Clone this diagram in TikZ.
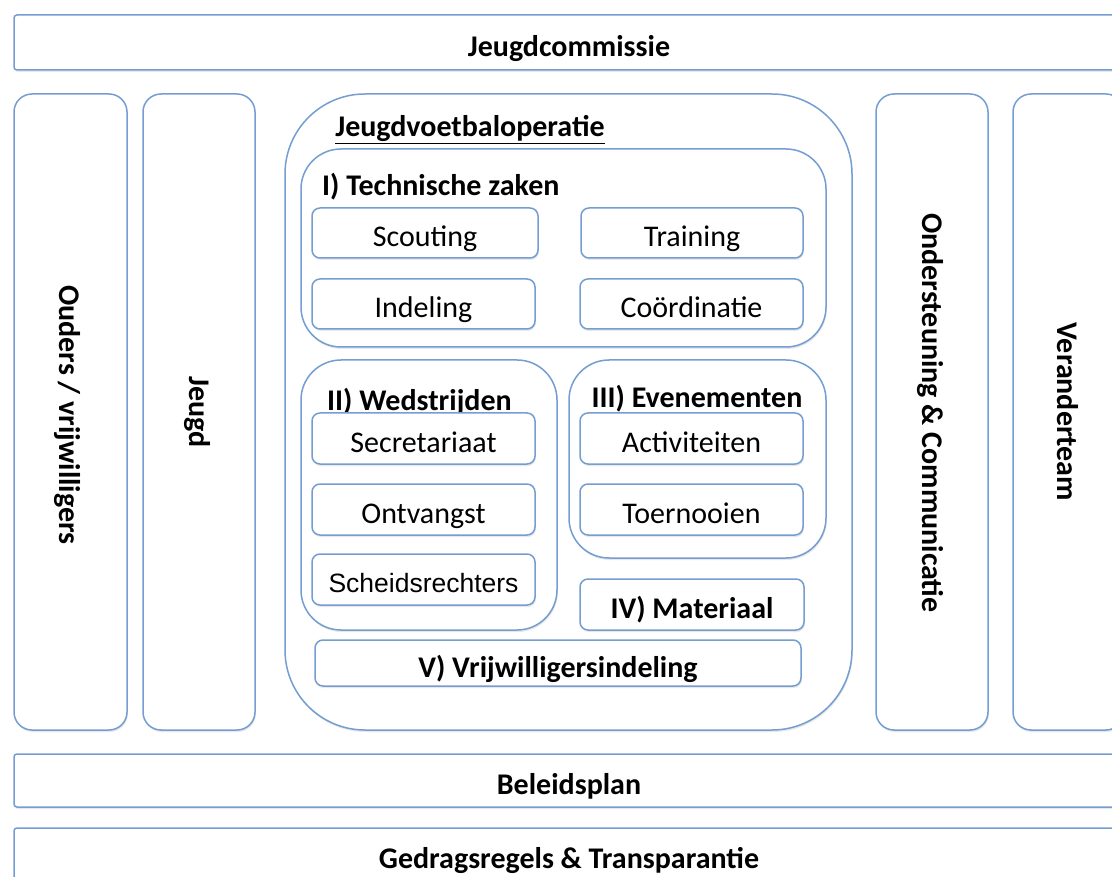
\documentclass[tikz,border=0pt]{standalone}
\usepackage{fontspec}
\setmainfont{Carlito}
\newfontfamily\arialf{Liberation Sans}
\usetikzlibrary{shadows}
\definecolor{bc}{RGB}{116,158,210}
\tikzset{
  box/.style={draw=bc, line width=1.5pt, fill=white, inner sep=0pt,
    drop shadow={opacity=0.18, shadow xshift=0.8pt, shadow yshift=-2pt},
    text height=28pt, text depth=0pt,
    font=\fontsize{30}{34}\selectfont},
  bar/.style={box, rounded corners=3pt, minimum width=1110pt, font=\fontsize{30}{34}\selectfont\bfseries},
  col/.style={box, rounded corners=18pt, minimum height=636pt},
  grp/.style={box, rounded corners=40pt},
  item/.style={box, rounded corners=8pt, minimum width=223pt, minimum height=51pt},
  ttl/.style={inner sep=0pt, font=\fontsize{30}{34}\selectfont\bfseries},
  vtxt/.style={inner sep=0pt, rotate=-90, font=\fontsize{30}{34}\selectfont\bfseries}
}
\begin{document}
\begin{tikzpicture}[x=1pt,y=-1pt]
\useasboundingbox (0,0) rectangle (1112,877);
\clip (0,0) rectangle (1112,877);
\fill[white] (0,0) rectangle (1112,877);
% bars
\node[bar, minimum height=55pt] (top) at (569,42.5) {Jeugdcommissie};
\node[bar, minimum height=53pt] (beleid) at (569,780.5) {Beleidsplan};
\node[bar, minimum height=62pt] (gedrag) at (569,859) {};
\node[ttl] (gedragt) at (569,860.5) {Gedragsregels \& Transparantie};
% columns
\node[col, minimum width=113pt] (ouders) at (70.5,412) {};
\node[vtxt] (oudert) at (67,415) {Ouders / vrijwilligers};
\node[col, minimum width=112pt] (jeugd) at (199,412) {};
\node[vtxt] (jeugdt) at (197,412) {Jeugd};
\node[col, minimum width=112pt] (onder) at (932,412) {};
\node[vtxt] (ondert) at (930,413) {Ondersteuning \& Communicatie};
\node[col, minimum width=111pt] (verand) at (1068.5,412) {};
\node[vtxt] (verandt) at (1068,412) {Veranderteam};
% central
\node[box, rounded corners=80pt, minimum width=567pt, minimum height=636pt] (jvo) at (568.5,412) {};
\node[ttl] (jvot) at (470,129.5) {\underline{Jeugdvoetbaloperatie}};
% I
\node[grp, minimum width=525pt, minimum height=198pt] (tech) at (563.5,248) {};
\node[ttl, anchor=west] (techt) at (322,186.5) {I) Technische zaken};
\node[item, minimum width=226pt, minimum height=50pt] (scout) at (425,233) {Scouting};
\node[item, minimum width=222pt, minimum height=50pt] (train) at (692,233) {Training};
\node[item, minimum height=50pt] (indel) at (423.5,304) {Indeling};
\node[item, minimum height=50pt] (coord) at (691.5,304) {Coördinatie};
% II
\node[grp, minimum width=256pt, minimum height=270pt] (wed) at (429,495) {};
\node[ttl, anchor=west] (wedt) at (327,402) {II) Wedstrijden};
\node[item] (secr) at (423.5,438.5) {Secretariaat};
\node[item] (ontv) at (423.5,509.5) {Ontvangst};
\node[item, text height=25pt, font=\arialf\fontsize{26.5}{30}\selectfont] (scheids) at (423.5,579.5) {Scheidsrechters};
% III
\node[grp, minimum width=257pt, minimum height=198pt] (even) at (697.5,459) {};
\node[ttl] (event) at (697,399) {III) Evenementen};
\node[item] (activ) at (691.5,438.5) {Activiteiten};
\node[item] (toern) at (691.5,509.5) {Toernooien};
% IV, V
\node[item, minimum width=224pt, font=\fontsize{30}{34}\selectfont\bfseries] (mat) at (692,604.5) {IV) Materiaal};
\node[item, minimum width=486pt, minimum height=46pt, font=\fontsize{30}{34}\selectfont\bfseries] (vrij) at (558,663) {V) Vrijwilligersindeling};
\end{tikzpicture}
\end{document}
